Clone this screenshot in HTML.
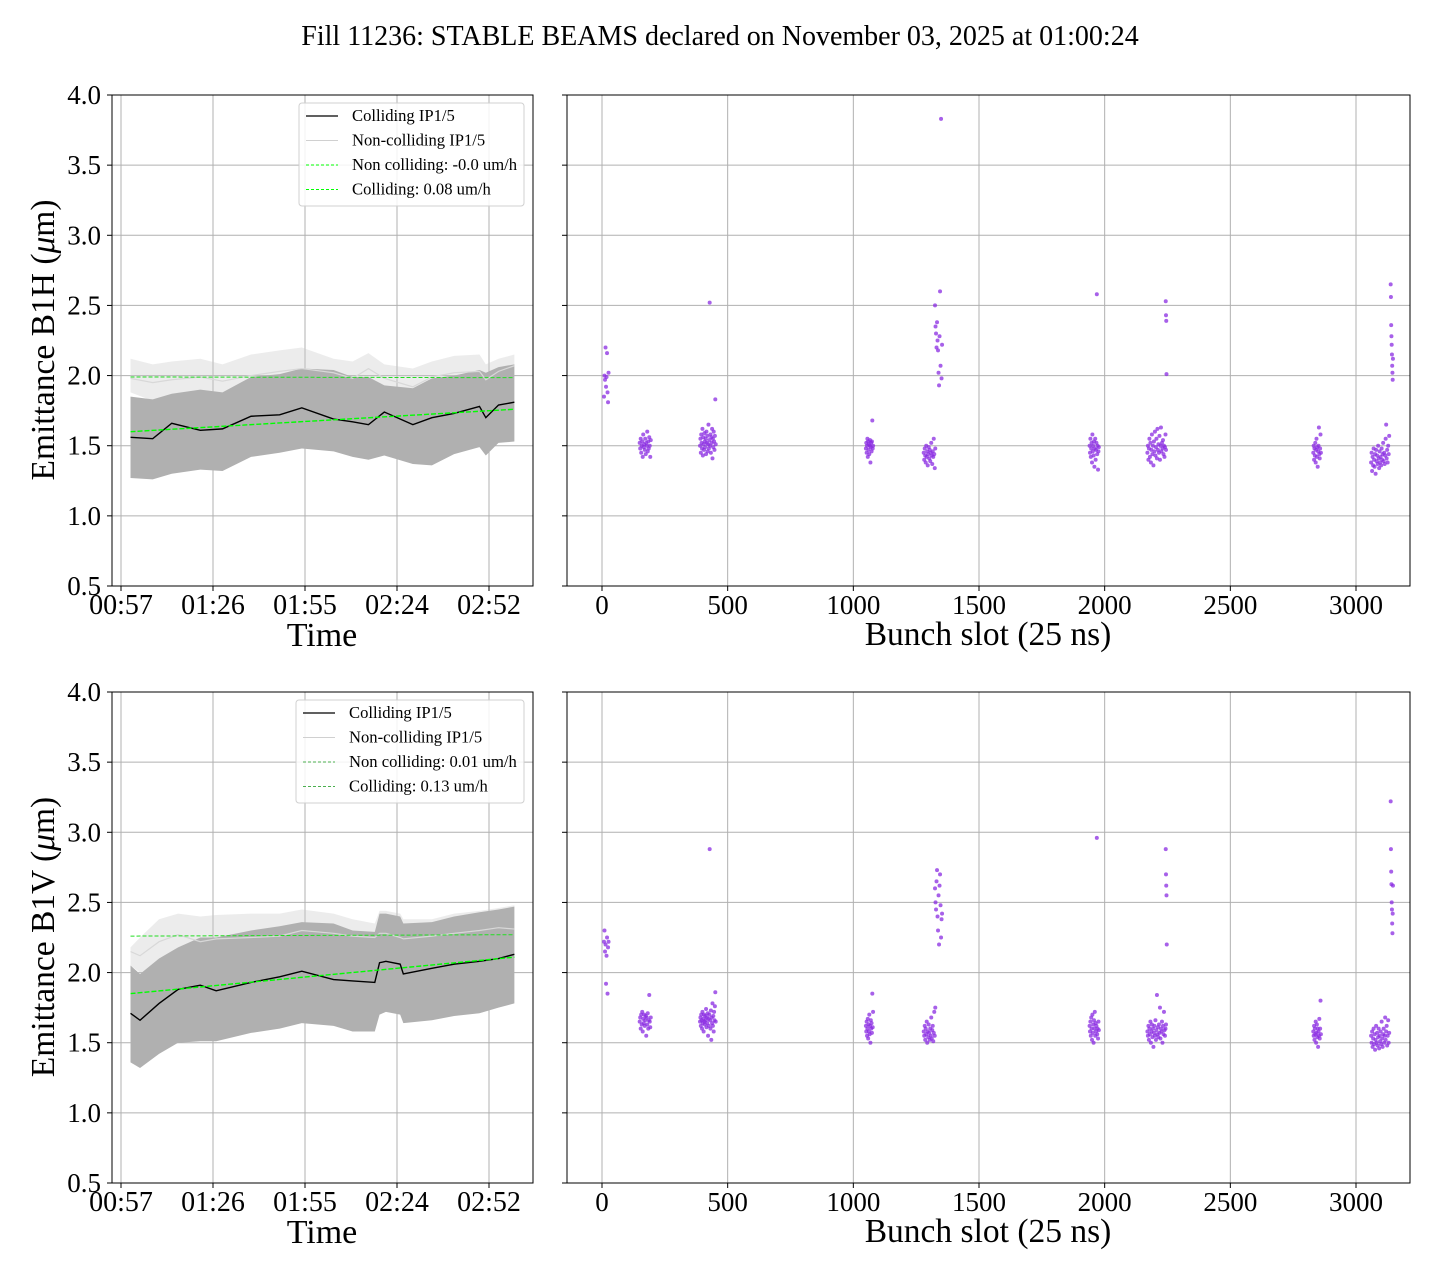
<!DOCTYPE html>
<html><head><meta charset="utf-8"><style>
body{margin:0;background:#fff}
svg{display:block;font-family:"Liberation Serif",serif}
</style></head><body>
<svg id="fig" width="1440" height="1280" viewBox="0 0 1440 1280" xmlns="http://www.w3.org/2000/svg">
<text x="720" y="45" font-size="28" text-anchor="middle">Fill 11236: STABLE BEAMS declared on November 03, 2025 at 01:00:24</text>
</svg>
<script>
// ---------- data ----------
const timeTicks = ["00:57","01:26","01:55","02:24","02:52"];
const timeTickMin = [0,29,58,87,116];
const yTicks = [0.5,1.0,1.5,2.0,2.5,3.0,3.5,4.0];
const slotTicks = [0,500,1000,1500,2000,2500,3000];

const tH = [3,10,16,25,32,41,50,57,67,73,78,83,92,98,105,113,115,119,124];
const hCollMean = [1.56,1.55,1.66,1.61,1.62,1.71,1.72,1.77,1.69,1.67,1.65,1.74,1.65,1.70,1.73,1.78,1.70,1.79,1.81];
const hCollHi = [1.85,1.83,1.87,1.90,1.88,1.99,2.01,2.05,2.04,1.99,1.99,1.93,1.91,1.98,2.00,2.04,2.02,2.06,2.08];
const hCollLo = [1.27,1.26,1.30,1.33,1.32,1.42,1.45,1.48,1.46,1.42,1.40,1.43,1.37,1.36,1.44,1.49,1.43,1.52,1.53];
const hNonHi = [2.12,2.08,2.10,2.12,2.08,2.15,2.18,2.20,2.12,2.10,2.16,2.08,2.05,2.10,2.14,2.15,2.08,2.12,2.15];
const hNonLo = [1.88,1.82,1.85,1.85,1.84,1.84,1.88,1.90,1.90,1.85,1.82,1.86,1.80,1.88,1.92,1.88,1.85,1.92,1.98];
const hNonMean = [1.98,1.95,1.97,1.99,1.96,2.00,2.03,2.05,2.02,1.98,2.05,1.98,1.92,1.99,2.02,2.03,1.97,2.03,2.07];
const hFitNon = [1.99,1.985];
const hFitColl = [1.60,1.76];

const tV = [3,6,12,18,25,30,41,50,57,67,73,80,81.5,83.5,88,89,98,105,113,119,124];
const vCollMean = [1.71,1.66,1.78,1.88,1.91,1.87,1.93,1.97,2.01,1.95,1.94,1.93,2.07,2.08,2.06,1.99,2.03,2.06,2.08,2.10,2.13];
const vCollHi = [2.05,1.99,2.10,2.18,2.25,2.25,2.30,2.33,2.36,2.35,2.30,2.29,2.42,2.42,2.40,2.35,2.36,2.40,2.43,2.45,2.47];
const vCollLo = [1.36,1.32,1.42,1.50,1.51,1.51,1.57,1.60,1.64,1.62,1.58,1.58,1.70,1.72,1.70,1.64,1.66,1.69,1.71,1.75,1.78];
const vNonHi = [2.18,2.25,2.38,2.42,2.40,2.41,2.42,2.42,2.45,2.42,2.38,2.35,2.44,2.44,2.42,2.38,2.38,2.42,2.44,2.46,2.48];
const vNonLo = [2.05,2.00,2.02,2.05,2.02,2.00,2.03,2.05,2.08,2.06,2.05,2.05,2.06,2.06,2.05,2.05,2.06,2.08,2.08,2.10,2.12];
const vNonMean = [2.15,2.12,2.22,2.27,2.22,2.24,2.25,2.26,2.30,2.28,2.26,2.25,2.28,2.28,2.25,2.24,2.26,2.28,2.30,2.32,2.31];
const vFitNon = [2.26,2.27];
const vFitColl = [1.85,2.11];

// scatter: train start slot, slot step, emittance values
const trainStart = [8,150,390,1050,1280,1325,1940,2170,2243,2830,3060,3138];
const trainStep = [2,2,1.6,1.5,2,2,1.6,2,1,1.6,2,1];
const emitH = [
 [1.85,2.0,1.97,2.2,1.92,1.99,2.16,1.88,1.81,2.02],
 [1.52,1.48,1.55,1.45,1.5,1.53,1.42,1.58,1.49,1.51,1.47,1.55,1.44,1.52,1.5,1.6,1.46,1.53,1.48,1.56,1.5,1.42,1.54],
 [1.5,1.55,1.45,1.58,1.52,1.48,1.62,1.43,1.56,1.51,1.47,1.59,1.53,1.49,1.55,1.44,1.6,1.52,1.57,1.46,1.51,1.65,1.48,1.54,2.52,1.5,1.58,1.45,1.56,1.52,1.62,1.41,1.55,1.49,1.6,1.53,1.47,1.57,1.83,1.51],
 [1.48,1.52,1.45,1.5,1.55,1.42,1.53,1.47,1.51,1.44,1.5,1.54,1.38,1.49,1.52,1.46,1.53,1.68,1.48,1.5],
 [1.45,1.4,1.48,1.43,1.38,1.5,1.42,1.46,1.36,1.44,1.49,1.41,1.47,1.39,1.45,1.52,1.43,1.37,1.46,1.42,1.55,1.44,1.34,1.48],
 [2.5,2.35,2.3,2.2,2.38,2.25,2.18,2.02,1.93,2.28,2.6,2.07,3.83,1.98,2.22],
 [1.5,1.45,1.55,1.42,1.48,1.52,1.38,1.58,1.46,1.5,1.43,1.53,1.35,1.48,1.55,1.4,1.47,1.52,2.58,1.44,1.5,1.33,1.46,1.49],
 [1.45,1.5,1.4,1.48,1.55,1.42,1.52,1.38,1.47,1.58,1.44,1.5,1.36,1.53,1.46,1.6,1.43,1.49,1.55,1.41,1.62,1.47,1.51,1.45,1.57,1.4,1.5,1.63,1.46,1.52,1.48,1.54,1.44,1.5,1.42,1.49,1.58,1.47],
 [2.53,2.43,2.39,2.01],
 [1.45,1.5,1.4,1.48,1.43,1.52,1.38,1.47,1.55,1.42,1.49,1.35,1.46,1.5,1.63,1.44,1.41,1.48,1.58,1.45],
 [1.38,1.45,1.32,1.42,1.36,1.48,1.4,1.35,1.44,1.3,1.47,1.39,1.43,1.37,1.5,1.41,1.34,1.46,1.38,1.42,1.36,1.48,1.4,1.44,1.52,1.39,1.45,1.37,1.43,1.55,1.65,1.41,1.47,1.38,1.5,1.44,1.57],
 [2.65,2.56,2.36,2.28,2.22,2.15,2.07,2.02,1.97,2.12]
];
const emitV = [
 [2.22,2.3,2.15,2.2,1.92,2.12,2.25,1.85,2.18,2.22],
 [1.65,1.68,1.6,1.7,1.63,1.72,1.58,1.67,1.64,1.7,1.62,1.66,1.69,1.55,1.68,1.63,1.71,1.6,1.66,1.84,1.65,1.61,1.68],
 [1.65,1.68,1.62,1.7,1.66,1.6,1.72,1.64,1.67,1.58,1.7,1.65,1.63,1.69,1.66,1.74,1.61,1.68,1.64,1.71,1.55,1.67,1.62,1.7,2.88,1.66,1.6,1.73,1.52,1.68,1.64,1.78,1.62,1.69,1.58,1.72,1.66,1.76,1.86,1.65],
 [1.62,1.58,1.65,1.55,1.6,1.67,1.53,1.63,1.58,1.7,1.56,1.62,1.5,1.66,1.6,1.64,1.57,1.85,1.61,1.72],
 [1.58,1.55,1.62,1.52,1.6,1.56,1.65,1.5,1.58,1.54,1.63,1.57,1.52,1.6,1.55,1.68,1.53,1.59,1.62,1.51,1.57,1.72,1.55,1.75],
 [2.6,2.5,2.45,2.65,2.73,2.4,2.3,2.55,2.2,2.62,2.7,2.48,2.25,2.38,2.42],
 [1.62,1.58,1.65,1.55,1.68,1.6,1.52,1.7,1.57,1.63,1.5,1.66,1.6,1.72,1.55,1.64,1.58,1.62,2.96,1.56,1.6,1.53,1.65,1.59],
 [1.58,1.55,1.62,1.52,1.6,1.56,1.65,1.5,1.58,1.63,1.54,1.6,1.47,1.57,1.62,1.55,1.66,1.52,1.59,1.84,1.56,1.61,1.54,1.63,1.57,1.75,1.53,1.6,1.58,1.65,1.5,1.62,1.56,1.72,1.59,1.55,1.6,1.63],
 [2.88,2.7,2.62,2.55,2.2],
 [1.58,1.55,1.62,1.52,1.6,1.56,1.65,1.5,1.57,1.63,1.54,1.6,1.47,1.58,1.55,1.67,1.53,1.6,1.8,1.56],
 [1.55,1.5,1.58,1.47,1.53,1.6,1.49,1.56,1.45,1.52,1.62,1.5,1.57,1.48,1.54,1.6,1.46,1.55,1.51,1.58,1.49,1.65,1.53,1.47,1.56,1.6,1.5,1.55,1.68,1.52,1.58,1.62,1.48,1.55,1.66,1.5,1.57],
 [3.22,2.88,2.72,2.63,2.5,2.45,2.35,2.28,2.42,2.62]
];

// ---------- drawing ----------
const NS = "http://www.w3.org/2000/svg";
const svg = document.getElementById('fig');
function mk(tag, attrs, parent){const e=document.createElementNS(NS,tag);for(const k in attrs)e.setAttribute(k,attrs[k]);(parent||svg).appendChild(e);return e;}

function yScale(top){return v => top + 491 - (v-0.5)*491/3.5;}
const tScale = m => 121 + m*92/29;
const sScale = s => 602 + s*(1356-602)/3000;

function timePanel(top, label, t, cm, chi, clo, nhi, nlo, nm, fitN, fitC, legN, legC, legX, legColor){
  const y = yScale(top);
  const L=112,R=533,B=top+491;
  const g = mk('g',{});
  
  
  timeTickMin.forEach((m,i)=>{
    const x=tScale(m);
    const gl=mk('line',{x1:x,x2:x,y1:top,y2:B,stroke:'#b0b0b0','stroke-width':1},g);
    
    
    mk('line',{x1:x,x2:x,y1:B,y2:B+5,stroke:'#000'},g);
    const tl=mk('text',{x:x,y:B+28,'font-size':28,'text-anchor':'middle'},g);
    tl.textContent=timeTicks[i];
    
    
  });
  yTicks.forEach(v=>{
    const yy=y(v);
    const gl=mk('line',{x1:L,x2:R,y1:yy,y2:yy,stroke:'#b0b0b0','stroke-width':1},g);
    
    
    mk('line',{x1:L-5,x2:L,y1:yy,y2:yy,stroke:'#000'},g);
    const tl=mk('text',{x:L-11,y:yy+9,'font-size':27,'text-anchor':'end'},g);
    tl.textContent=v.toFixed(1);
    
    
  });
  function band(hi,lo,fill,name){
    let d='M'+t.map((m,i)=>tScale(m)+','+y(hi[i])).join('L');
    d+='L'+t.map((m,i)=>tScale(m)+','+y(lo[i])).reverse().join('L')+'Z';
    const p=mk('path',{d:d,fill:fill},g);
    
    
  }
  function line(vals,stroke,w,name){
    const p=mk('polyline',{points:t.map((m,i)=>tScale(m)+','+y(vals[i])).join(' '),fill:'none',stroke:stroke,'stroke-width':w},g);
    
    
  }
  band(nhi,nlo,'rgba(200,200,200,0.35)','non-colliding-band');
  band(chi,clo,'#b0b0b0','colliding-band');
  line(nm,'#d8d8d8',1.2,'non-colliding-line');
  line(cm,'#000',1.4,'colliding-line');
  const t0=t[0],t1=t[t.length-1];
  const f1=mk('line',{x1:tScale(t0),x2:tScale(t1),y1:y(fitN[0]),y2:y(fitN[1]),stroke:'#22dd22','stroke-width':1,'stroke-dasharray':'4,2'},g);
  
  
  const f2=mk('line',{x1:tScale(t0),x2:tScale(t1),y1:y(fitC[0]),y2:y(fitC[1]),stroke:'#00ff00','stroke-width':1.4,'stroke-dasharray':'5,2'},g);
  
  
  mk('rect',{x:L,y:top,width:R-L,height:491,fill:'none',stroke:'#000','stroke-width':1},g);
  const lg=mk('g',{},g);
  
  
  mk('rect',{x:legX,y:top+8,width:524-legX,height:103,rx:3,fill:'rgba(255,255,255,0.85)',stroke:'#d0d0d0'},lg);
  const entries=[['Colliding IP1/5','#000',1.2,null],['Non-colliding IP1/5','#d0d0d0',1,null],[legN,legColor,1,'3,2'],[legC,legColor,1,'3,2']];
  entries.forEach((e,i)=>{
    const yy=top+21+i*24.5;
    const ln=mk('line',{x1:legX+7,x2:legX+39,y1:yy,y2:yy,stroke:e[1],'stroke-width':e[2]},lg);
    if(e[3])ln.setAttribute('stroke-dasharray',e[3]);
    const tx=mk('text',{x:legX+53,y:yy+5,'font-size':16.6},lg);
    tx.textContent=e[0];
    
    
  });
  const xl=mk('text',{x:322,y:B+60,'font-size':34,'text-anchor':'middle'},g);
  xl.textContent='Time';
  
  
  const yl=mk('text',{transform:`translate(54,${top+245}) rotate(-90)`,'font-size':33.5,'text-anchor':'middle'},g);
  yl.innerHTML='Emittance '+label+' (<tspan font-style="italic">μ</tspan>m)';
  
  
}

function scatterPanel(top, emit, name){
  const y=yScale(top);
  const L=567,R=1410,B=top+491;
  const g=mk('g',{});
  
  
  slotTicks.forEach(s=>{
    const x=sScale(s);
    const gl=mk('line',{x1:x,x2:x,y1:top,y2:B,stroke:'#b0b0b0'},g);
    
    
    mk('line',{x1:x,x2:x,y1:B,y2:B+5,stroke:'#000'},g);
    const tl=mk('text',{x:x,y:B+28,'font-size':27,'text-anchor':'middle'},g);
    tl.textContent=s;
    
    
  });
  yTicks.forEach(v=>{
    const yy=y(v);
    const gl=mk('line',{x1:L,x2:R,y1:yy,y2:yy,stroke:'#b0b0b0'},g);
    
    
    mk('line',{x1:L-5,x2:L,y1:yy,y2:yy,stroke:'#000'},g);
  });
  emit.forEach((vals,k)=>{
    vals.forEach((v,i)=>{
      const c=mk('circle',{cx:sScale(trainStart[k]+i*trainStep[k]),cy:y(v),r:2,fill:'rgba(138,43,226,0.75)'},g);
      
      
    });
  });
  mk('rect',{x:L,y:top,width:R-L,height:491,fill:'none',stroke:'#000'},g);
  const xl=mk('text',{x:988,y:B+59,'font-size':33.5,'text-anchor':'middle'},g);
  xl.textContent='Bunch slot (25 ns)';
  
  
}

timePanel(95,'B1H',tH,hCollMean,hCollHi,hCollLo,hNonHi,hNonLo,hNonMean,hFitNon,hFitColl,'Non colliding: -0.0 um/h','Colliding: 0.08 um/h',299,'#00ff00');
timePanel(692,'B1V',tV,vCollMean,vCollHi,vCollLo,vNonHi,vNonLo,vNonMean,vFitNon,vFitColl,'Non colliding: 0.01 um/h','Colliding: 0.13 um/h',296,'#4caf50');
scatterPanel(95,emitH,'bunch-panel-b1h');
scatterPanel(692,emitV,'bunch-panel-b1v');
</script>
</body></html>
